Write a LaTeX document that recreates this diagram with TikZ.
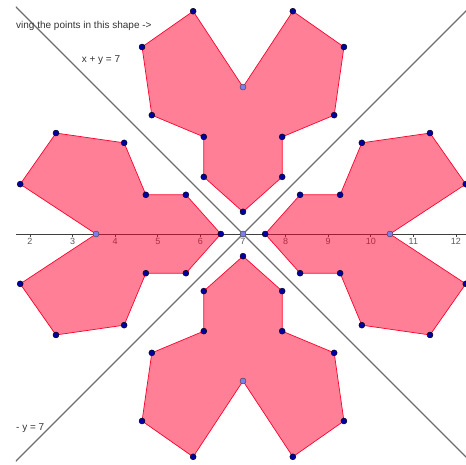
\documentclass[tikz,border=0pt]{standalone}
\usepackage{fontspec}
\setmainfont{Liberation Sans}
\definecolor{shapered}{RGB}{255,0,45}
\definecolor{ptblue}{RGB}{0,0,165}
\definecolor{ptlight}{RGB}{125,125,235}
\definecolor{linegray}{RGB}{110,110,110}
\tikzset{
  vertex/.style={circle, draw=black, fill=ptblue, line width=0.4pt, minimum size=6pt, inner sep=0pt},
  notch/.style={circle, draw=black!75, fill=ptlight, line width=0.4pt, minimum size=6pt, inner sep=0pt},
  mirrorline/.style={line width=1.2pt, linegray},
  axisline/.style={line width=0.8pt, black!75},
  region/.style={draw=shapered, line width=0.7pt, fill=shapered, fill opacity=0.5},
  ticklabel/.style={font=\fontsize{9}{10}\selectfont, text=black!65, anchor=north, inner sep=1pt},
  caption/.style={font=\fontsize{10}{12}\selectfont, text=black!80, inner sep=0pt}
}

\begin{document}
\begin{tikzpicture}[x=42.6pt, y=42.6pt]
  \useasboundingbox (1.296,-5.399) rectangle (12.235,5.493);
  \begin{scope}
    \clip (1.671,-5.399) rectangle (12.235,5.493);

    % x axis
    \coordinate (axL) at (1.671,0);
    \coordinate (axR) at (12.235,0);
    \draw[axisline] (axL) -- (axR);
    \foreach \k in {2,...,12} {
      \draw[axisline, line width=0.6pt] (\k,0) -- (\k,-0.07);
      \node[ticklabel] (t\k) at (\k,-0.08) {\k};
    }

    % mirror lines
    \coordinate (m1a) at (1.4,5.6);
    \coordinate (m1b) at (12.6,-5.6);
    \coordinate (m2a) at (1.4,-5.6);
    \coordinate (m2b) at (12.6,5.6);
    \draw[mirrorline] (m1a) -- (m1b);
    \draw[mirrorline] (m2a) -- (m2b);

    % four copies of the shape
    \foreach \ang in {0,90,180,270} {
      \begin{scope}[shift={(7,0)}, rotate=\ang]
        \foreach \px/\py [count=\i] in {0/3.45, -1.17/5.23, -2.37/4.39, -2.14/2.79,
            -0.92/2.28, -0.92/1.34, 0/0.52, 0.92/1.34, 0.92/2.28, 2.14/2.79,
            2.37/4.39, 1.17/5.23}
          \coordinate (p\ang-\i) at (\px,\py);
        \draw[region] (p\ang-1) -- (p\ang-2) -- (p\ang-3) -- (p\ang-4) -- (p\ang-5)
          -- (p\ang-6) -- (p\ang-7) -- (p\ang-8) -- (p\ang-9) -- (p\ang-10)
          -- (p\ang-11) -- (p\ang-12) -- cycle;
      \end{scope}
    }

    % points
    \foreach \ang in {0,90,180,270} {
      \foreach \i in {2,...,12}
        \node[vertex] (d\ang-\i) at (p\ang-\i) {};
      \node[notch] (n\ang) at (p\ang-1) {};
    }
    \node[notch] (ctr) at (7,0) {};

    % texts
    \node[caption, anchor=west] (hint) at (1.671,4.88) {ving the points in this shape ->};
    \node[caption] (eq1) at (3.667,4.085) {x + y = 7};
    \node[caption, anchor=west] (eq2) at (1.671,-4.554) {- y = 7};
  \end{scope}
\end{tikzpicture}
\end{document}
